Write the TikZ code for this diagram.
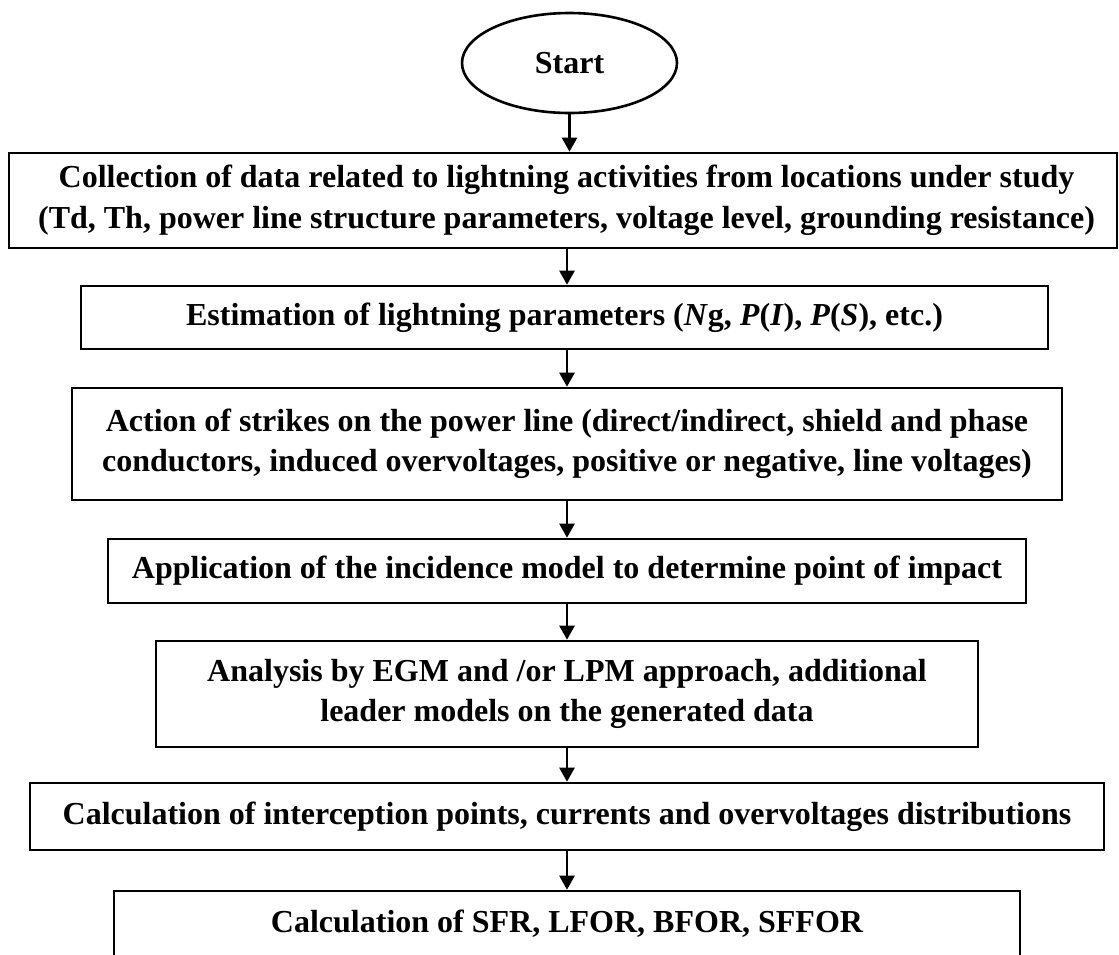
\documentclass[tikz,border=0pt]{standalone}
\usepackage{fontspec}
\setmainfont{Liberation Serif}
\usetikzlibrary{arrows.meta,shapes.geometric}
\tikzset{
  boxnode/.style={draw, line width=2.6pt, rectangle, inner sep=0pt, align=center,
    font=\fontsize{32}{40}\selectfont\bfseries},
  arr/.style={line width=2.4pt, -{Triangle[width=15pt,length=14pt]}}
}
\begin{document}
\begin{tikzpicture}[x=1pt,y=-1pt]
\path[use as bounding box] (0,0) rectangle (1119,954);
\clip (0,0) rectangle (1119,954);
\node[draw, ellipse, line width=2.6pt, minimum width=215pt, minimum height=100pt, inner sep=0pt,
  font=\fontsize{32}{40}\selectfont\bfseries] (start) at (569.5,63) {Start};
\node[boxnode, minimum width=1108pt, minimum height=95pt,
  font=\fontsize{32}{41}\selectfont\bfseries] (b1) at (563,200.5)
  {\hspace*{7pt}Collection of data related to lightning activities from locations under study\\
   \hspace*{7pt}(Td, Th, power line structure parameters, voltage level, grounding resistance)};
\node[boxnode, minimum width=967pt, minimum height=63pt] (b2) at (564.5,317.5)
  {Estimation of lightning parameters (\textit{N}g, \textit{P}(\textit{I}), \textit{P}(\textit{S}), etc.)};
\node[boxnode, minimum width=990pt, minimum height=112pt] (b3) at (567,444)
  {Action of strikes on the power line (direct/indirect, shield and phase\\
   conductors, induced overvoltages, positive or negative, line voltages)};
\node[boxnode, minimum width=918pt, minimum height=64pt] (b4) at (567,571)
  {Application of the incidence model to determine point of impact};
\node[boxnode, minimum width=822pt, minimum height=106pt] (b5) at (567,694)
  {Analysis by EGM and /or LPM approach, additional\\
   leader models on the generated data};
\node[boxnode, minimum width=1074pt, minimum height=67pt] (b6) at (567,816.5)
  {Calculation of interception points, currents and overvoltages distributions};
\node[boxnode, minimum width=906pt, minimum height=66pt] (b7) at (567,924)
  {Calculation of SFR, LFOR, BFOR, SFFOR};
\coordinate (axis) at (567,0);
\draw[arr] (start.south) -- (start.south |- b1.north);
\draw[arr] (axis |- b1.south) -- (axis |- b2.north);
\draw[arr] (axis |- b2.south) -- (axis |- b3.north);
\draw[arr] (axis |- b3.south) -- (axis |- b4.north);
\draw[arr] (axis |- b4.south) -- (axis |- b5.north);
\draw[arr] (axis |- b5.south) -- (axis |- b6.north);
\draw[arr] (axis |- b6.south) -- (axis |- b7.north);
\end{tikzpicture}
\end{document}
